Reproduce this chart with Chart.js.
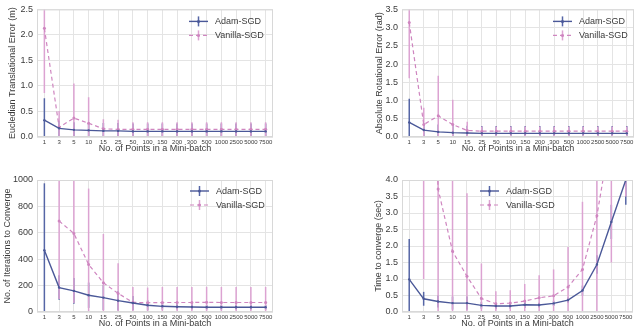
<!DOCTYPE html>
<html>
<head>
<meta charset="utf-8">
<title>Mini-batch size comparison</title>
<script src="https://cdn.jsdelivr.net/npm/chart.js@4.4.1/dist/chart.umd.min.js"></script>
<style>
    body { margin: 0; background: #fff; }
    #wrap { position: relative; width: 640px; height: 331px; }
    canvas { position: absolute; }
</style>
</head>
<body>
<div id="wrap">
    <canvas id="trans" width="320" height="165" style="left:0;top:0"></canvas>
    <canvas id="rot" width="320" height="165" style="left:320px;top:0"></canvas>
    <canvas id="iters" width="320" height="166" style="left:0;top:165px"></canvas>
    <canvas id="time" width="320" height="166" style="left:320px;top:165px"></canvas>
</div>
<script>
// categories
const batchSizes = ['1', '3', '5', '10', '15', '25', '50', '100', '150', '200', '300', '500', '1000', '2500', '5000', '7500']

// Euclidean translational error (m): mean and std
const transAdam = [0.33, 0.17, 0.14, 0.13, 0.12, 0.12, 0.11, 0.11, 0.11, 0.11, 0.11, 0.11, 0.11, 0.11, 0.11, 0.11]
const transAdamStd = [0.43, 0.15, 0.15, 0.15, 0.155, 0.155, 0.155, 0.155, 0.155, 0.155, 0.155, 0.155, 0.155, 0.155, 0.155, 0.155]
const transVanilla = [2.13, 0.19, 0.37, 0.27, 0.16, 0.15, 0.15, 0.15, 0.15, 0.15, 0.15, 0.15, 0.15, 0.15, 0.15, 0.15]
const transVanillaStd = [1.27, 0.32, 0.68, 0.51, 0.19, 0.19, 0.14, 0.14, 0.14, 0.14, 0.14, 0.14, 0.14, 0.14, 0.14, 0.14]

// absolute rotational error (rad)
const rotAdam = [0.40, 0.19, 0.14, 0.12, 0.11, 0.10, 0.10, 0.10, 0.10, 0.10, 0.10, 0.10, 0.10, 0.10, 0.10, 0.10]
const rotAdamStd = [0.65, 0.18, 0.2, 0.2, 0.2, 0.2, 0.2, 0.2, 0.2, 0.2, 0.2, 0.2, 0.2, 0.2, 0.2, 0.2]
const rotVanilla = [3.14, 0.34, 0.58, 0.34, 0.18, 0.16, 0.16, 0.16, 0.16, 0.16, 0.16, 0.16, 0.16, 0.16, 0.16, 0.16]
const rotVanillaStd = [1.53, 0.46, 1.1, 0.68, 0.24, 0.13, 0.13, 0.13, 0.13, 0.13, 0.13, 0.13, 0.13, 0.13, 0.13, 0.13]

// iterations to converge
const iterAdam = [468, 185, 160, 127, 109, 86, 68, 51, 43, 40, 38, 36, 36, 36, 36, 36]
const iterAdamStd = [507, 93, 98, 96, 94, 74, 54, 38, 25, 22, 20, 18, 18, 18, 18, 18]
const iterVanilla = [null, 689, 595, 360, 221, 141, 73, 70, 72, 72, 72, 73, 72, 72, 72, 72]
const iterVanillaStd = [0, 590, 527, 575, 370, 229, 117, 115, 118, 118, 118, 118, 118, 118, 118, 118]

// time to converge (sec)
const timeAdam = [0.99, 0.40, 0.32, 0.27, 0.27, 0.20, 0.18, 0.18, 0.22, 0.21, 0.26, 0.36, 0.65, 1.44, 2.73, 4.0]
const timeAdamStd = [1.22, 0.21, 0.18, 0.2, 0.2, 0.1, 0.1, 0.08, 0.1, 0.07, 0.08, 0.08, 0.15, 0.28, 0.52, 0.75]
const timeVanilla = [null, 15, 3.73, 1.84, 1.08, 0.41, 0.25, 0.27, 0.33, 0.43, 0.49, 0.76, 1.29, 2.92, 5.5, 8.5]
const timeVanillaStd = [0, 14, 4, 2.6, 2.52, 1.06, 0.38, 0.39, 0.52, 0.68, 0.8, 1.21, 2.05, 3.5, 4, 5]

const adamColor = '#4a5898'
const adamErr = '#5666a6'
const vanColor = '#cf86c0'
const vanErr = '#dca3d2'
const gridColor = '#e4e4e4'
const textColor = '#3a3a3a'
const fontFamily = 'Arial, "Liberation Sans", sans-serif'

// vertical error bars, no caps, clipped to the plot
const errorBars = {
    id: 'errorBars',
    beforeDatasetsDraw(chart) {
        const { ctx, chartArea: a, scales: { x, y } } = chart
        ctx.save()
        ctx.beginPath()
        ctx.rect(a.left, a.top, a.right - a.left, a.bottom - a.top)
        ctx.clip()
        chart.data.datasets.forEach(ds => {
            ctx.strokeStyle = ds.errColor
            ctx.lineWidth = 1.5
            ds.data.forEach((v, i) => {
                if (v == null) return
                const e = ds.errors[i]
                const px = x.getPixelForValue(i)
                ctx.beginPath()
                ctx.moveTo(px, y.getPixelForValue(v - e))
                ctx.lineTo(px, y.getPixelForValue(v + e))
                ctx.stroke()
            })
        })
        ctx.restore()
    },
    // light frame round the plot
    afterDraw(chart) {
        const { ctx, chartArea: a } = chart
        ctx.save()
        ctx.strokeStyle = '#d8d8d8'
        ctx.lineWidth = 1
        ctx.strokeRect(a.left + 0.5, a.top + 0.5, a.right - a.left - 1, a.bottom - a.top - 1)
        ctx.restore()
    },
}

// legend drawn inside the plot area
const inLegend = {
    id: 'inLegend',
    afterDraw(chart, args, opts) {
        const { ctx, chartArea: a } = chart
        const x0 = a.right - opts.fromRight
        chart.data.datasets.forEach((ds, i) => {
            const yy = a.top + opts.top + i * 14
            ctx.save()
            ctx.strokeStyle = ds.borderColor
            ctx.lineWidth = ds.borderWidth
            ctx.setLineDash(ds.borderDash || [])
            ctx.beginPath()
            ctx.moveTo(x0, yy)
            ctx.lineTo(x0 + 19, yy)
            ctx.stroke()
            ctx.setLineDash([])
            ctx.strokeStyle = ds.errColor
            ctx.lineWidth = 1.5
            ctx.beginPath()
            ctx.moveTo(x0 + 9.5, yy - 5)
            ctx.lineTo(x0 + 9.5, yy + 5)
            ctx.stroke()
            ctx.fillStyle = ds.borderColor
            ctx.beginPath()
            ctx.arc(x0 + 9.5, yy, 1.5, 0, Math.PI * 2)
            ctx.fill()
            ctx.fillStyle = textColor
            ctx.font = `9px ${fontFamily}`
            ctx.textBaseline = 'middle'
            ctx.fillText(ds.label, x0 + 26, yy + 0.5)
            ctx.restore()
        })
    },
}

function makeChart(id, c) {
    const canvas = document.getElementById(id)
    const [left, top, right, bottom] = c.plot
    return new Chart(canvas, {
        type: 'line',
        data: {
            labels: batchSizes,
            datasets: [
                {
                    label: 'Adam-SGD',
                    data: c.adam,
                    errors: c.adamStd,
                    errColor: adamErr,
                    borderColor: adamColor,
                    backgroundColor: adamColor,
                    borderWidth: 1.4,
                    pointRadius: 1.2,
                    pointBorderWidth: 0,
                },
                {
                    label: 'Vanilla-SGD',
                    data: c.vanilla,
                    errors: c.vanillaStd,
                    errColor: vanErr,
                    borderColor: vanColor,
                    backgroundColor: vanColor,
                    borderWidth: 1.2,
                    borderDash: [4, 3],
                    pointRadius: 1.5,
                    pointBorderWidth: 0,
                },
            ],
        },
        options: {
            responsive: false,
            animation: false,
            events: [],
            layout: {
                padding: { top, left: 0, right: canvas.width - right, bottom: canvas.height - bottom - 19 },
            },
            plugins: {
                legend: { display: false },
                tooltip: { enabled: false },
                inLegend: { fromRight: c.legendRight, top: c.legendTop },
            },
            scales: {
                x: {
                    offset: true,
                    grid: { color: gridColor, drawTicks: false, offset: false },
                    border: { display: false },
                    ticks: { font: { size: 6, family: fontFamily }, color: textColor, padding: 2, maxRotation: 0, autoSkip: false },
                    title: {
                        display: true,
                        text: 'No. of Points in a Mini-batch',
                        font: { size: 9, family: fontFamily },
                        color: textColor,
                        padding: { top: 0, bottom: 1.6 },
                    },
                    afterFit: s => { s.height = 19 },
                },
                y: {
                    min: 0,
                    max: c.max,
                    grid: { color: gridColor, drawTicks: false },
                    border: { display: false },
                    ticks: {
                        stepSize: c.step,
                        font: { size: 9, family: fontFamily },
                        color: textColor,
                        padding: 4,
                        callback: v => (c.step < 1 ? v.toFixed(1) : v),
                    },
                    title: {
                        display: true,
                        text: c.yTitle,
                        font: { size: 9, family: fontFamily },
                        color: textColor,
                        padding: { top: c.yTitleX - 5.4, bottom: 0 },
                    },
                    afterFit: s => { s.width = left },
                },
            },
        },
        plugins: [errorBars, inLegend],
    })
}

makeChart('trans', {
    plot: [37, 5, 273, 137],
    max: 2.5, step: 0.5,
    yTitle: 'Eucledian Translational Error (m)', yTitleX: 12.5,
    adam: transAdam, adamStd: transAdamStd, vanilla: transVanilla, vanillaStd: transVanillaStd,
    legendRight: 84, legendTop: 12,
})
makeChart('rot', {
    plot: [82, 5, 314, 137],
    max: 3.5, step: 0.5,
    yTitle: 'Absolute Rotational Error (rad)', yTitleX: 60,
    adam: rotAdam, adamStd: rotAdamStd, vanilla: rotVanilla, vanillaStd: rotVanillaStd,
    legendRight: 81, legendTop: 12,
})
makeChart('iters', {
    plot: [37, 15, 273, 147],
    max: 1000, step: 200,
    yTitle: 'No. of Iterations to Converge', yTitleX: 7.5,
    adam: iterAdam, adamStd: iterAdamStd, vanilla: iterVanilla, vanillaStd: iterVanillaStd,
    legendRight: 83, legendTop: 11,
})
makeChart('time', {
    plot: [82, 15, 313, 147],
    max: 4, step: 0.5,
    yTitle: 'Time to converge (sec)', yTitleX: 59,
    adam: timeAdam, adamStd: timeAdamStd, vanilla: timeVanilla, vanillaStd: timeVanillaStd,
    legendRight: 153, legendTop: 11,
})
</script>
</body>
</html>
